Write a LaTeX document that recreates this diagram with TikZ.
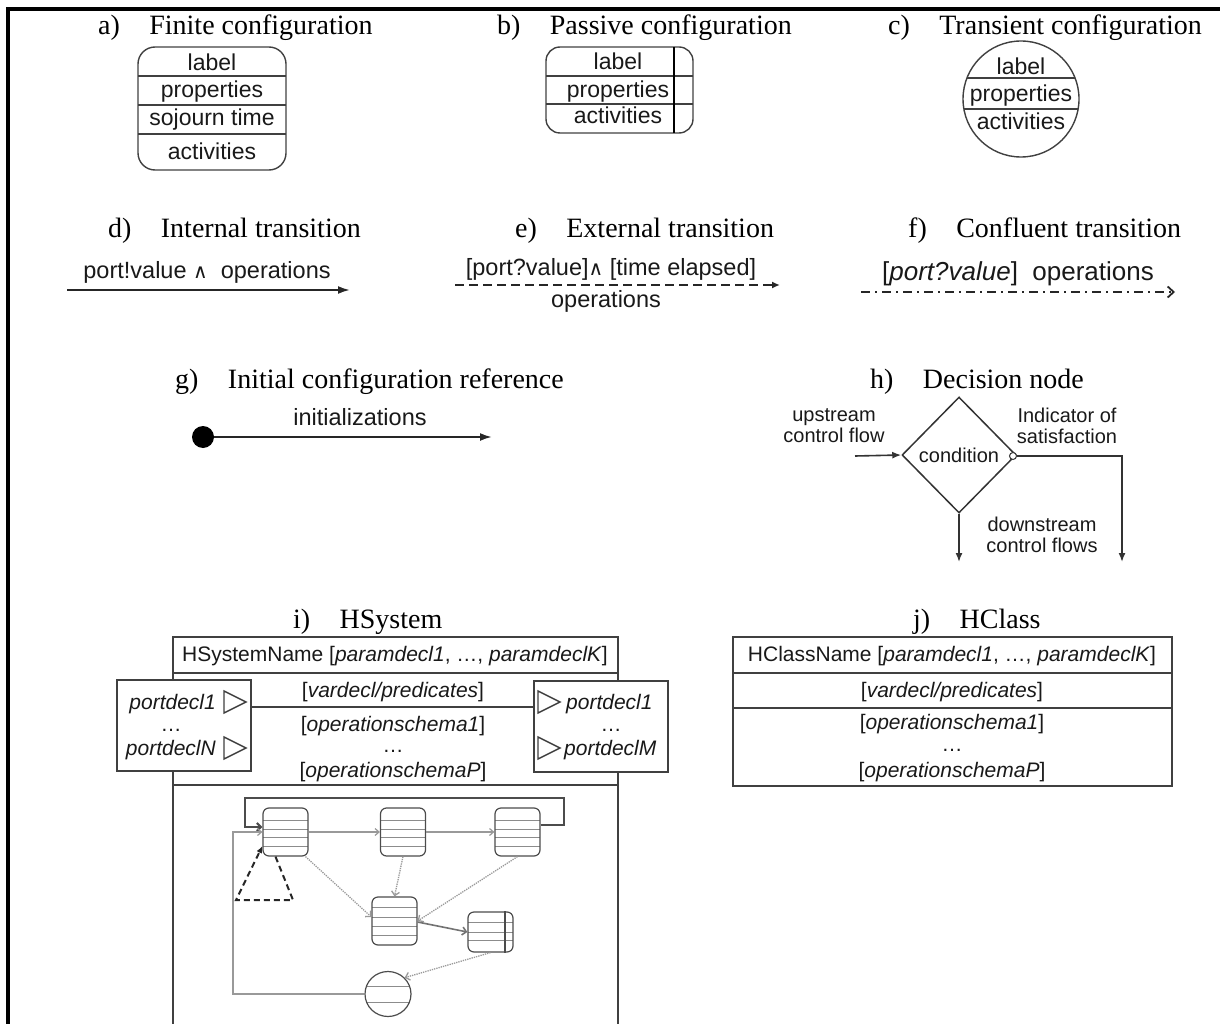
\documentclass[tikz,border=0pt]{standalone}
\usepackage{fontspec}
\setmainfont{Liberation Serif}
\setsansfont{Liberation Sans}
\newfontfamily\symfont{DejaVu Sans}
\usetikzlibrary{calc}
\usetikzlibrary{arrows.meta}
\usetikzlibrary{shapes.geometric}

\newcommand{\andsym}{{\symfont\fontsize{20}{20}\selectfont ∧}}

\tikzset{
  title/.style={font=\fontsize{28}{30}\selectfont, anchor=base west, inner sep=0},
  txt/.style={font=\sffamily\fontsize{23}{25}\selectfont, text=black!90, anchor=base, inner sep=0},
  trtxt/.style={txt, font=\sffamily\fontsize{23.5}{25}\selectfont},
  hstxt/.style={txt, font=\sffamily\fontsize{21}{23}\selectfont},
  dectxt/.style={font=\sffamily\fontsize{20}{21}\selectfont, text=black!90, align=center, inner sep=0},
  box/.style={draw=black!75, line width=1.4},
  sep/.style={draw=black!75, line width=2.2},
  itrans/.style={draw=black!85, line width=2, -{Latex[length=12pt,width=8pt]}},
  etrans/.style={draw=black!85, line width=1.8, dash pattern=on 9pt off 5pt, -{Latex[length=8pt,width=7pt]}},
  ftrans/.style={draw=black!85, line width=1.8, dash pattern=on 9pt off 5pt on 2pt off 5pt, -{Straight Barb[length=6pt,width=11pt]}},
  flow/.style={draw=black!80, line width=1.6, -{Latex[length=9pt,width=7pt]}},
  state/.style={draw=black!70, line width=1.2, rounded corners=6, minimum width=45, minimum height=48, inner sep=0},
  stlines/.style={path picture={\foreach \f in {#1}
      \draw[black!45, line width=0.8] ($(path picture bounding box.north west)!\f!(path picture bounding box.south west)$) -- ($(path picture bounding box.north east)!\f!(path picture bounding box.south east)$);}},
  gline/.style={draw=black!40, line width=1.2, -{Straight Barb[length=4pt,width=7pt]}},
  gdot/.style={draw=black!40, line width=1.3, densely dotted, -{Straight Barb[length=4pt,width=8pt]}},
  porttri/.pic={\draw[box] (0,-11) -- (22,0) -- (0,11) -- cycle;}
}

\begin{document}
\begin{tikzpicture}[x=1pt,y=-1pt]
\useasboundingbox (0,0) rectangle (1220,1024);
\draw[line width=3.5] (8,1030) -- (8,9) -- (1225,9);

% titles
\node[title] (ta) at (98,35) {a)\hspace{1.05em}Finite configuration};
\node[title] (tb) at (497,35) {b)\hspace{1.05em}Passive configuration};
\node[title] (tc) at (888,35) {c)\hspace{1.05em}Transient configuration};
\node[title] (td) at (108,238) {d)\hspace{1.05em}Internal transition};
\node[title] (te) at (515,238) {e)\hspace{1.05em}External transition};
\node[title] (tf) at (908,238) {f)\hspace{1.05em}Confluent transition};
\node[title] (tg) at (175,388) {g)\hspace{1.05em}Initial configuration reference};
\node[title] (th) at (870,388) {h)\hspace{1.05em}Decision node};
\node[title] (ti) at (293,628) {i)\hspace{1.05em}HSystem};
\node[title] (tj) at (913,628) {j)\hspace{1.05em}HClass};

% finite configuration
\draw[box, rounded corners=17] (138,47) rectangle (286,170);
\foreach \y in {76,105,134} \draw[box] (138,\y) -- (286,\y);
\node[txt] (alab) at (212,71) {label};
\node[txt] (aprop) at (212,98) {properties};
\node[txt] (asoj) at (212,126) {sojourn time};
\node[txt] (aact) at (212,160) {activities};

% passive configuration
\draw[box, rounded corners=14] (546,47) rectangle (693,133);
\foreach \y in {76,104} \draw[box] (546,\y) -- (693,\y);
\draw[line width=2] (674,47) -- (674,133);
\node[txt] (blab) at (618,70) {label};
\node[txt] (bprop) at (618,98) {properties};
\node[txt] (bact) at (618,124) {activities};

% transient configuration
\node[box, circle, minimum size=116, inner sep=0] (trc) at (1021,99) {};
\begin{scope}
  \clip (1021,99) circle (58);
  \foreach \y in {78,109} \draw[box] (950,\y) -- (1090,\y);
\end{scope}
\node[txt] (clab) at (1021,75) {label};
\node[txt] (cprop) at (1021,102) {properties};
\node[txt] (cact) at (1021,130) {activities};

% transitions
\coordinate (d0) at (67,290);
\coordinate (d1) at (350,290);
\draw[itrans] (d0) -- (d1);
\node[trtxt] (dlab) at (207,278) {port!value \andsym\ \ operations};

\coordinate (e0) at (455,285);
\coordinate (e1) at (780,285);
\draw[etrans] (e0) -- (e1);
\node[trtxt] (elab) at (611,276) {[port?value]\andsym\ [time elapsed]};
\node[trtxt] (eops) at (606,307) {operations};

\coordinate (f0) at (861,292);
\coordinate (f1) at (1175,292);
\draw[ftrans] (f0) -- (f1);
\node[txt, font=\sffamily\fontsize{26}{28}\selectfont] (flab) at (1018,280) {[\textit{port?value}]\ \ operations};

% initial configuration
\node[circle, fill=black, minimum size=22, inner sep=0] (ini) at (203,437) {};
\coordinate (g1) at (492,437);
\draw[itrans] (ini) -- (g1);
\node[trtxt] (glab) at (360,425) {initializations};

% decision node
\node[diamond, draw=black!80, line width=1.5, minimum width=114, minimum height=116, inner sep=0,
      font=\sffamily\fontsize{20}{21}\selectfont, text=black!90] (dec) at (959,455) {condition};
\coordinate (up) at (855,456);
\draw[flow] (up) -- (dec.west);
\node[circle, draw=black!80, fill=white, line width=1, minimum size=7, inner sep=0] (sat) at (1013,456) {};
\coordinate (rt) at (1122,456);
\coordinate (rtd) at (1122,562);
\draw[flow] (sat.east) -- (rt) -- (rtd);
\coordinate (dn) at (959,562);
\draw[flow] (dec.south) -- (dn);
\node[dectxt] (upl) at (834,426) {upstream\\control flow};
\node[dectxt] (satl) at (1067,426) {Indicator of\\satisfaction};
\node[dectxt] (dnl) at (1042,535) {downstream\\control flows};

% HSystem
\draw[box] (173,1030) -- (173,637) -- (618,637) -- (618,1030);
\draw[sep] (173,673) -- (618,673);
\draw[sep] (173,785) -- (618,785);
\node[box, fill=white, minimum width=134, minimum height=91, inner sep=0] (pin) at (184,725.5) {};
\node[box, fill=white, minimum width=134, minimum height=91, inner sep=0] (pout) at (601,726.5) {};
\draw[box] ([yshift=18.5pt]pin.east) -- ([yshift=19.5pt]pout.west);
\node[hstxt] (hsname) at (395,661) {HSystemName [\textit{paramdecl1}, …, \textit{paramdeclK}]};
\node[hstxt] (hsvar) at (393,697) {[\textit{vardecl/predicates}]};
\node[hstxt] (hsop1) at (393,731) {[\textit{operationschema1}]};
\node[hstxt] (hsdots) at (393,752) {…};
\node[hstxt] (hsopp) at (393,777) {[\textit{operationschemaP}]};
\node[hstxt, anchor=base east] (pl1) at (216,709) {\textit{portdecl1}};
\node[hstxt] (pldots) at (171,731) {…};
\node[hstxt, anchor=base east] (pln) at (216,755) {\textit{portdeclN}};
\pic at (224,702) {porttri};
\pic at (224,748) {porttri};
\node[hstxt, anchor=base west] (pr1) at (566,709) {\textit{portdecl1}};
\node[hstxt] (prdots) at (611,731) {…};
\node[hstxt, anchor=base west] (prm) at (564,755) {\textit{portdeclM}};
\pic at (538,702) {porttri};
\pic at (538,748) {porttri};

% HSystem behaviour
\node[state, stlines={0.25,0.44,0.62,0.81}] (s1) at (285.5,832) {};
\node[state, stlines={0.25,0.44,0.62,0.81}] (s2) at (403,832) {};
\node[state, stlines={0.25,0.44,0.62,0.81}] (s3) at (517.5,832) {};
\node[state, stlines={0.21,0.42,0.62,0.79}] (s4) at (394.5,921) {};
\node[state, minimum height=40, stlines={0.27,0.5,0.7}] (s5) at (490.5,932) {};
\draw[draw=black!70, line width=1.2] ([xshift=14.5pt]s5.north) -- ([xshift=14.5pt]s5.south);
\node[ellipse, draw=black!70, line width=1.2, minimum width=46, minimum height=45, inner sep=0, stlines={0.34,0.68}] (s6) at (388,994) {};
\coordinate (lpA) at (564,798);
\coordinate (lpB) at (245,798);
\draw[draw=black!70, line width=2.2, -{Straight Barb[length=4pt,width=8pt]}] ([yshift=7pt]s3.east) -| (lpA) -- (lpB) |- ([yshift=5pt]s1.west);
\draw[gline] (s1.east) -- (s2.west);
\draw[gline] (s2.east) -- (s3.west);
\draw[gdot] ([xshift=20pt]s1.south) -- ([yshift=4pt]s4.west);
\draw[gdot] (s2.south) -- (s4.north);
\draw[gdot] (s3.south) -- (s4.east);
\draw[draw=black!55, line width=1.6, -{Straight Barb[length=4pt,width=8pt]}] ([yshift=-1pt]s4.east) -- (s5.west);
\draw[gdot] (s5.south) -- (s6.north east);
\coordinate (rtC) at (233,832);
\draw[gline] (s6.west) -| (rtC) -- (s1.west);
\coordinate (trA) at (293,900);
\coordinate (trB) at (236,900);
\draw[draw=black!85, line width=2, dash pattern=on 6pt off 4pt, -{Latex[length=7pt,width=6pt]}] ([xshift=-10pt]s1.south) -- (trA) -- (trB) -- ([yshift=-14pt]s1.west);

% HClass
\draw[box] (733,637) rectangle (1172,786);
\draw[sep] (733,673) -- (1172,673);
\draw[sep] (733,708) -- (1172,708);
\node[hstxt] (hcname) at (952,661) {HClassName [\textit{paramdecl1}, …, \textit{paramdeclK}]};
\node[hstxt] (hcvar) at (952,697) {[\textit{vardecl/predicates}]};
\node[hstxt] (hcop1) at (952,729) {[\textit{operationschema1}]};
\node[hstxt] (hcdots) at (952,751) {…};
\node[hstxt] (hcopp) at (952,777) {[\textit{operationschemaP}]};
\end{tikzpicture}
\end{document}
